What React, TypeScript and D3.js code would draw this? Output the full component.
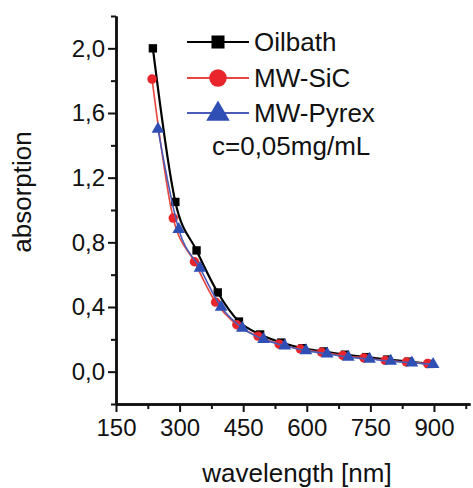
import React, { useEffect, useRef } from 'react';
import * as d3 from 'd3';

// values
const oilbathX = [237, 290, 340, 390, 440, 490, 540, 590, 640, 690, 740, 790, 840, 890];
const oilbathY = [2.0, 1.05, 0.75, 0.49, 0.31, 0.23, 0.18, 0.145, 0.125, 0.105, 0.09, 0.075, 0.062, 0.048];

const sicX = [235, 285, 335, 385, 435, 485, 535, 585, 635, 685, 735, 785, 835, 885];
const sicY = [1.81, 0.95, 0.68, 0.43, 0.29, 0.22, 0.17, 0.14, 0.12, 0.1, 0.085, 0.07, 0.06, 0.05];

const pyrexX = [249, 298, 348, 398, 448, 498, 548, 598, 648, 698, 748, 798, 848, 898];
const pyrexY = [1.5, 0.88, 0.64, 0.4, 0.27, 0.2, 0.16, 0.13, 0.11, 0.09, 0.078, 0.065, 0.055, 0.045];

const xTicks = [150, 300, 450, 600, 750, 900];
const xMinor = [225, 375, 525, 675, 825, 975];
const yTicks = [0, 0.4, 0.8, 1.2, 1.6, 2.0];
const yMinor = [-0.2, 0.2, 0.6, 1.0, 1.4, 1.8, 2.2];

const legendNames = ['Oilbath', 'MW-SiC', 'MW-Pyrex'];
const note = 'c=0,05mg/mL';

const width = 473;
const height = 488;
const font = 'Liberation Sans, Arial, Helvetica, sans-serif';

export default function App() {
  const svgRef = useRef<SVGSVGElement>(null);

  useEffect(() => {
    const svg = d3.select(svgRef.current);
    svg.selectAll('*').remove();

    const x = d3.scaleLinear().domain([150, 985]).range([116, 470]);
    const y = d3.scaleLinear().domain([-0.2, 2.2]).range([404, 16]);

    const comma = (v: number) => d3.format('.1f')(v).replace('.', ',');

    // axes
    const xAxis = svg.append('g')
      .attr('transform', `translate(0, ${y(-0.2)})`)
      .call(d3.axisBottom(x).tickValues(xTicks).tickSize(8).tickSizeOuter(0).tickPadding(4).tickFormat(d => String(d)));
    const xMinorG = svg.append('g')
      .attr('transform', `translate(0, ${y(-0.2)})`)
      .call(d3.axisBottom(x).tickValues(xMinor).tickSize(5).tickSizeOuter(0).tickFormat(() => ''));

    const yAxis = svg.append('g')
      .attr('transform', `translate(${x(150)}, 0)`)
      .call(d3.axisLeft(y).tickValues(yTicks).tickSize(8).tickSizeOuter(0).tickPadding(3).tickFormat(d => comma(+d)));
    const yMinorG = svg.append('g')
      .attr('transform', `translate(${x(150)}, 0)`)
      .call(d3.axisLeft(y).tickValues(yMinor).tickSize(5).tickSizeOuter(0).tickFormat(() => ''));

    [xAxis, xMinorG, yAxis, yMinorG].forEach(g => {
      g.select('.domain').attr('stroke', '#111').attr('stroke-width', 2.5);
      g.selectAll('.tick line').attr('stroke', '#111').attr('stroke-width', 2);
      g.selectAll('text')
        .attr('font-family', font)
        .attr('font-size', 24)
        .attr('fill', '#111');
    });
    xAxis.selectAll('text').attr('dy', '0.85em');

    // axis titles
    svg.append('text')
      .attr('x', 297)
      .attr('y', 482)
      .attr('text-anchor', 'middle')
      .attr('font-family', font)
      .attr('font-size', 26)
      .attr('fill', '#111')
      .text('wavelength [nm]');

    svg.append('text')
      .attr('transform', `translate(31, 192) rotate(-90)`)
      .attr('text-anchor', 'middle')
      .attr('font-family', font)
      .attr('font-size', 26)
      .attr('fill', '#111')
      .text('absorption');

    const series = [
      { xs: oilbathX, ys: oilbathY, color: '#000000', line: '#000000', lw: 2.2, shape: d3.symbolSquare, size: 70 },
      { xs: sicX, ys: sicY, color: '#e8262b', line: '#e8453c', lw: 1.6, shape: d3.symbolCircle, size: 70 },
      { xs: pyrexX, ys: pyrexY, color: '#2f4fb5', line: '#4a5cb8', lw: 1.6, shape: d3.symbolTriangle, size: 70 },
    ];

    const lineGen = d3.line<[number, number]>()
      .x(d => x(d[0]))
      .y(d => y(d[1]))
      .curve(d3.curveMonotoneX);

    series.forEach(s => {
      const pts: [number, number][] = s.xs.map((v, i) => [v, s.ys[i]]);
      svg.append('path')
        .attr('d', lineGen(pts))
        .attr('fill', 'none')
        .attr('stroke', s.line)
        .attr('stroke-width', s.lw);
      svg.append('g')
        .selectAll('path')
        .data(pts)
        .enter()
        .append('path')
        .attr('transform', d => `translate(${x(d[0])}, ${y(d[1])})`)
        .attr('d', d3.symbol().type(s.shape).size(s.size)())
        .attr('fill', s.color);
    });

    // legend
    const legend = svg.append('g');
    const rows = [42, 78, 113];
    series.forEach((s, i) => {
      legend.append('line')
        .attr('x1', 187).attr('x2', 249)
        .attr('y1', rows[i]).attr('y2', rows[i])
        .attr('stroke', s.line)
        .attr('stroke-width', 2.2);
      legend.append('path')
        .attr('transform', `translate(218, ${rows[i] + (i === 2 ? 1 : 0)})`)
        .attr('d', d3.symbol().type(s.shape).size(i === 0 ? 170 : 240)())
        .attr('fill', s.color);
      legend.append('text')
        .attr('x', 254)
        .attr('y', rows[i] + 9)
        .attr('font-family', font)
        .attr('font-size', 26)
        .attr('fill', '#111')
        .text(legendNames[i]);
    });
    legend.append('text')
      .attr('x', 212)
      .attr('y', 155)
      .attr('font-family', font)
      .attr('font-size', 26)
      .attr('fill', '#111')
      .text(note);
  }, []);

  return (
    <div>
      <svg
        ref={svgRef}
        width={width}
        height={height}
        style={{ position: 'absolute', left: 0, top: 0, background: '#fff' }}
      />
    </div>
  );
}
